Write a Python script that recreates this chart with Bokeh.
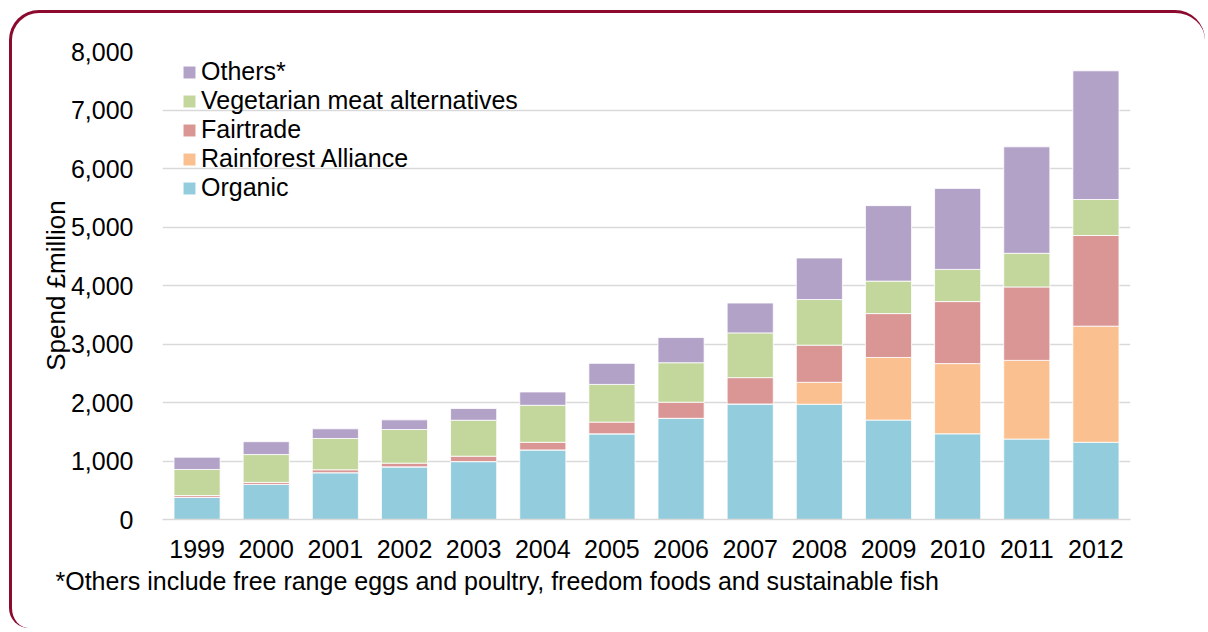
from bokeh.plotting import figure
from bokeh.models import (FactorRange, Range1d, NumeralTickFormatter, Legend, LegendItem,
                          Title, FixedTicker)
from bokeh.embed import file_html
from bokeh.resources import INLINE

years = ["1999", "2000", "2001", "2002", "2003", "2004", "2005",
         "2006", "2007", "2008", "2009", "2010", "2011", "2012"]
organic = [380, 600, 800, 900, 990, 1190, 1465, 1730, 1975, 1970, 1700, 1465, 1375, 1320]
rainforest = [0, 0, 0, 0, 0, 0, 0, 0, 0, 375, 1070, 1200, 1345, 1985]
fairtrade = [30, 35, 50, 63, 92, 130, 200, 275, 450, 635, 750, 1060, 1255, 1550]
vegetarian = [445, 475, 535, 575, 615, 632, 644, 675, 765, 780, 555, 550, 575, 615]
others = [210, 220, 165, 165, 200, 228, 360, 430, 510, 710, 1290, 1385, 1820, 2200]

series_names = ["Organic", "Rainforest Alliance", "Fairtrade",
                "Vegetarian meat alternatives", "Others*"]
series_keys = ["organic", "rainforest", "fairtrade", "vegetarian", "others"]
colors = ["#93CDDD", "#FAC090", "#D99694", "#C3D69B", "#B3A2C7"]
y_ticks = [0, 1000, 2000, 3000, 4000, 5000, 6000, 7000, 8000]
footnote = "*Others include free range eggs and poultry, freedom foods and sustainable fish"

data = dict(years=years, organic=organic, rainforest=rainforest, fairtrade=fairtrade,
            vegetarian=vegetarian, others=others)

FONT = "Liberation Sans"

p = figure(width=1196, height=618, x_range=FactorRange(*years, range_padding=0),
           y_range=Range1d(0, 8000), output_backend="svg", toolbar_location=None,
           min_border_left=150, min_border_right=78, min_border_top=38, min_border_bottom=112)

p.styles = {"margin-left": "9px", "margin-top": "10px",
            "border": "3px solid #8B0A2E", "border-bottom": "none", "border-right": "none",
            "border-radius": "30px 30px 20px 20px"}

renderers = p.vbar_stack(series_keys, x="years", width=0.667, source=data, color=colors,
                         line_color="white", line_width=0.8)

p.background_fill_color = "white"
p.border_fill_color = None
p.outline_line_color = None

p.xgrid.grid_line_color = None
p.ygrid.grid_line_color = "#D9D9D9"
p.ygrid.grid_line_width = 1.5

p.yaxis.ticker = FixedTicker(ticks=y_ticks)
p.yaxis.formatter = NumeralTickFormatter(format="0,0")
p.yaxis.axis_line_color = None
p.yaxis.major_tick_line_color = None
p.yaxis.minor_tick_line_color = None
p.yaxis.major_label_text_font = FONT
p.yaxis.major_label_text_font_size = "25px"
p.yaxis.major_label_text_color = "black"
p.yaxis.major_label_standoff = 23
p.yaxis.axis_label = "Spend £million"
p.yaxis.axis_label_text_font = FONT
p.yaxis.axis_label_text_font_size = "26px"
p.yaxis.axis_label_text_font_style = "normal"
p.yaxis.axis_label_text_color = "black"
p.yaxis.axis_label_standoff = -3

p.xaxis.axis_line_color = "#D9D9D9"
p.xaxis.axis_line_width = 1.5
p.xaxis.major_tick_line_color = None
p.xaxis.minor_tick_line_color = None
p.xaxis.major_label_text_font = FONT
p.xaxis.major_label_text_font_size = "25px"
p.xaxis.major_label_text_color = "black"
p.xaxis.major_label_standoff = 14

items = [LegendItem(label=name, renderers=[r]) for name, r in zip(series_names, renderers)]
legend = Legend(items=list(reversed(items)), location=(19, 317), margin=0, padding=0,
                spacing=0, glyph_width=16, glyph_height=16, label_height=29,
                label_standoff=4, label_text_font=FONT, label_text_font_size="25px",
                label_text_color="black", background_fill_alpha=0, border_line_color=None)
p.add_layout(legend, "center")

note = Title(text=footnote, align="left", offset=-107, standoff=8,
             text_font=FONT, text_font_size="25px", text_font_style="normal",
             text_color="black")
p.add_layout(note, "below")

open("out.html", "w").write(file_html(p, INLINE))
